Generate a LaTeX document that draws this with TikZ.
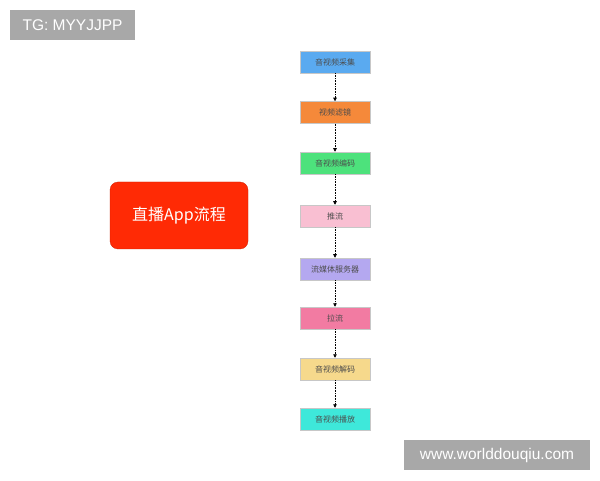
\documentclass[tikz,border=0pt]{standalone}
\usepackage{fontspec}
\setmainfont{Liberation Sans}
\newfontfamily\cjk{Noto Sans CJK SC}
\usetikzlibrary{arrows.meta}
\definecolor{cA}{HTML}{5AAAF0}
\definecolor{cB}{HTML}{F5893A}
\definecolor{cC}{HTML}{4DE27C}
\definecolor{cD}{HTML}{F9BFD2}
\definecolor{cE}{HTML}{B4A8F0}
\definecolor{cF}{HTML}{F27BA2}
\definecolor{cG}{HTML}{F6D98C}
\definecolor{cH}{HTML}{3EE8DA}
\definecolor{redbox}{HTML}{FF2A05}
\definecolor{graybox}{HTML}{A8A8A8}
\tikzset{
  x=1pt,y=1pt,
  stepbox/.style={draw=black!22,line width=0.5pt,minimum width=70pt,minimum height=22pt,inner sep=0pt,font=\cjk\fontsize{8}{10}\selectfont,text=black!70},
  flow/.style={densely dotted,line width=0.6pt,-{Triangle[length=3.5pt,width=3.5pt]}},
  tag/.style={fill=graybox,text=white,inner sep=0pt,font=\fontsize{15.5}{18}\selectfont}
}
\begin{document}
\begin{tikzpicture}
\useasboundingbox (0,0) rectangle (600,480);
\fill[white] (0,0) rectangle (600,480);
\node[tag,minimum width=125pt,minimum height=30pt] (tg) at (72.5,455) {TG: MYYJJPP};
\node[tag,minimum width=186pt,minimum height=30pt] (www) at (497,25) {www.worlddouqiu.com};
\node[fill=redbox,draw=redbox!80!black,line width=0.3pt,rounded corners=8pt,minimum width=138pt,minimum height=67pt,text=white,font=\cjk\fontsize{16}{19}\selectfont] (app) at (179,264.5) {直播App流程};
\node[stepbox,fill=cA] (s1) at (335,418) {音视频采集};
\node[stepbox,fill=cB] (s2) at (335,367.5) {视频滤镜};
\node[stepbox,fill=cC] (s3) at (335,317) {音视频编码};
\node[stepbox,fill=cD] (s4) at (335,264) {推流};
\node[stepbox,fill=cE] (s5) at (335,211) {流媒体服务器};
\node[stepbox,fill=cF] (s6) at (335,162) {拉流};
\node[stepbox,fill=cG] (s7) at (335,111) {音视频解码};
\node[stepbox,fill=cH] (s8) at (335,61) {音视频播放};
\draw[flow] (s1) -- (s2);
\draw[flow] (s2) -- (s3);
\draw[flow] (s3) -- (s4);
\draw[flow] (s4) -- (s5);
\draw[flow] (s5) -- (s6);
\draw[flow] (s6) -- (s7);
\draw[flow] (s7) -- (s8);
\end{tikzpicture}
\end{document}
